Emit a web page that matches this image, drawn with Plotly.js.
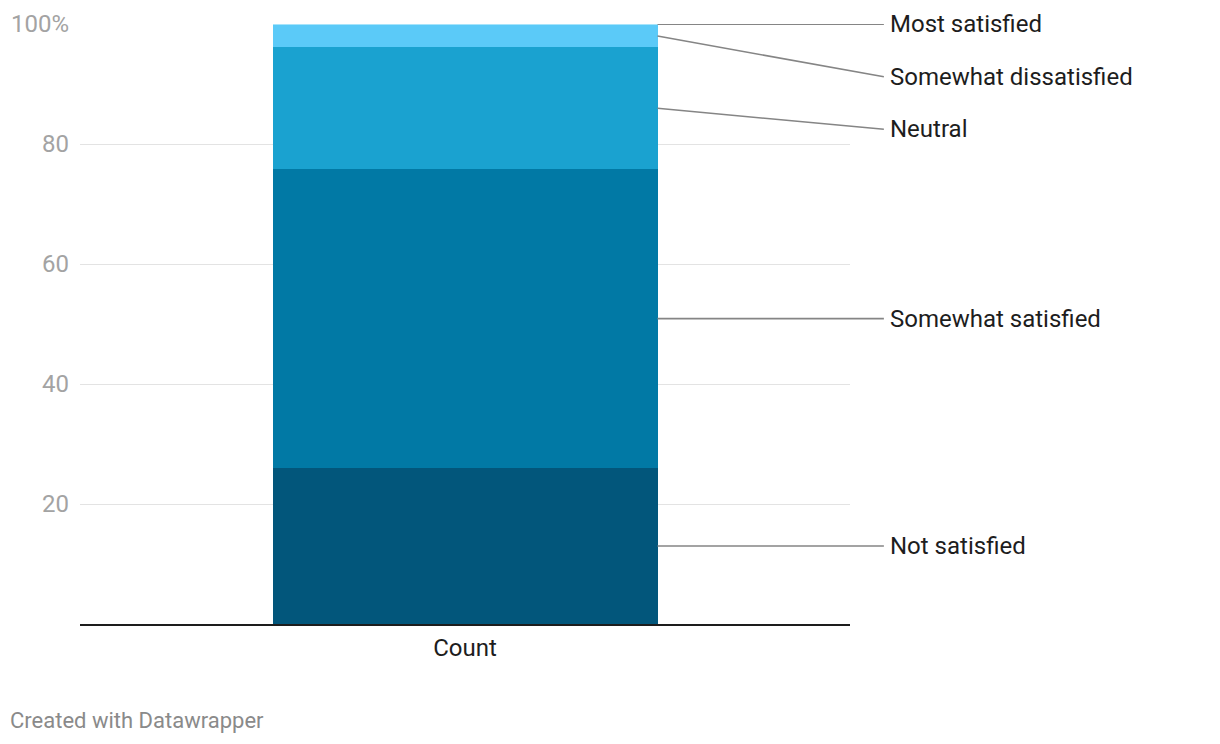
<!DOCTYPE html>
<html>
<head>
<meta charset="utf-8">
<script src="https://cdn.plot.ly/plotly-3.0.1.min.js"></script>
<style>
  html, body { margin: 0; padding: 0; background: #fff; }
  #chart { width: 1220px; height: 744px; }
</style>
</head>
<body>
<div id="chart"></div>
<script>
// Data (percent of count)
const categories = ["Count"];
const seriesNames = ["Not satisfied", "Somewhat satisfied", "Neutral", "Somewhat dissatisfied", "Most satisfied"];
const seriesValues = [26.0, 49.8, 20.3, 3.8, 0.1];
const seriesColors = ["#02567b", "#0179a5", "#1aa2d0", "#5bcaf8", "#a6e4fb"];
const tickValues = [20, 40, 60, 80, 100];
const tickLabels = ["20", "40", "60", "80", "100%"];

const traces = seriesNames.map((name, i) => ({
  type: "bar",
  name: name,
  x: categories,
  y: [seriesValues[i]],
  marker: { color: seriesColors[i], line: { width: 0 } },
  hoverinfo: "name+y",
}));

// label placement: middle of each segment, pushed apart from the top
const mids = [];
let base = 0;
seriesValues.forEach((v) => { mids.push(base + v / 2); base += v; });
const gap = 8.75;
const labelPos = mids.slice();
for (let i = labelPos.length - 1; i >= 0; i--) {
  const ceiling = i === labelPos.length - 1 ? 100 : labelPos[i + 1] - gap;
  labelPos[i] = Math.min(Math.max(mids[i], 0), ceiling);
}

const shapes = [];
const annotations = [];
seriesNames.forEach((name, i) => {
  shapes.push({
    type: "line", xref: "paper", yref: "y",
    x0: 0.75, y0: Math.min(mids[i], 100), x1: 1.044, y1: labelPos[i],
    line: { color: "#858585", width: 1.6 },
  });
  annotations.push({
    xref: "paper", yref: "y", x: 1.0495, y: labelPos[i],
    xanchor: "left", yanchor: "middle", showarrow: false,
    text: name, font: { family: "Roboto", size: 24, color: "#1d1d1d" },
  });
});

annotations.push({
  xref: "paper", yref: "paper", x: -0.094, y: -0.16,
  xanchor: "left", yanchor: "middle", showarrow: false,
  text: "Created with Datawrapper",
  font: { family: "Roboto", size: 22, color: "#8a8a8a" },
});

const layout = {
  width: 1220, height: 744,
  margin: { l: 80, r: 370, t: 24, b: 120 },
  paper_bgcolor: "#fff", plot_bgcolor: "#fff",
  barmode: "stack",
  bargap: 0.5,
  showlegend: false,
  font: { family: "Roboto", size: 24, color: "#1d1d1d" },
  xaxis: {
    type: "category",
    range: [-0.5, 0.5],
    showgrid: false,
    showline: true, linecolor: "#1d1d1d", linewidth: 2,
    ticks: "",
    ticklabelstandoff: 1,
    tickfont: { family: "Roboto", size: 24, color: "#1d1d1d" },
    fixedrange: true,
  },
  yaxis: {
    range: [0, 100],
    tickvals: tickValues,
    ticktext: tickLabels,
    showgrid: true, gridcolor: "#e3e3e3", gridwidth: 1,
    zeroline: false, showline: false,
    ticks: "",
    ticklabelstandoff: 10,
    tickfont: { family: "Roboto", size: 24, color: "#a3a3a3" },
    fixedrange: true,
  },
  shapes: shapes,
  annotations: annotations,
};

Plotly.newPlot("chart", traces, layout, { displayModeBar: false, staticPlot: true });
</script>
</body>
</html>
